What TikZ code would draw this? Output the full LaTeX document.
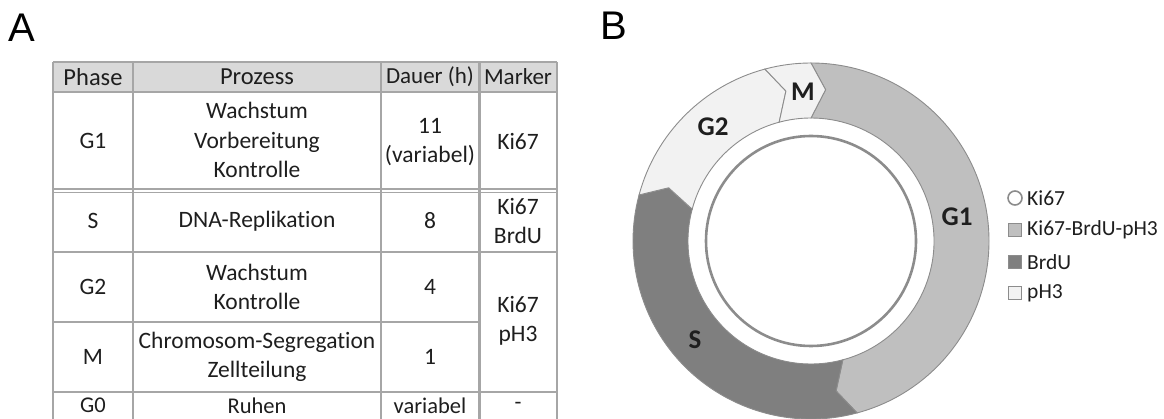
\documentclass[tikz,border=0pt]{standalone}
\usepackage{fontspec}
\setmainfont{Carlito}[Ligatures=NoCommon]
\newfontfamily\arialfont{Liberation Sans}
\definecolor{txt}{HTML}{1E1E1E}
\definecolor{gridc}{HTML}{A6A6A6}
\definecolor{headc}{HTML}{D9D9D9}
\definecolor{gone}{HTML}{BFBFBF}
\definecolor{sdark}{HTML}{7F7F7F}
\definecolor{glight}{HTML}{F2F2F2}
\definecolor{edgec}{HTML}{8C8C8C}
\tikzset{
  cell/.style={text=txt, align=center, inner sep=0pt, font=\fontsize{23.5}{29.5}\selectfont},
  lastcell/.style={cell, font=\fontsize{22.5}{27}\selectfont},
  headcell/.style={cell, font=\fontsize{24.5}{29}\selectfont},
  headsmall/.style={cell, font=\fontsize{23}{29}\selectfont},
  gridline/.style={draw=gridc, line width=2pt},
  segline/.style={draw=edgec, line width=0.9pt},
  ringlabel/.style={text=txt, inner sep=0pt, font=\bfseries\fontsize{27}{27}\selectfont},
  legtext/.style={text=txt, anchor=west, inner sep=0pt, font=\fontsize{21.5}{21.5}\selectfont},
  legbox/.style={draw=edgec, line width=0.9pt, minimum width=12.5pt, minimum height=12.5pt, inner sep=0pt},
  panel/.style={anchor=base west, inner sep=0pt, font=\arialfont\fontsize{40}{40}\selectfont}
}
\newcommand{\cycseg}[3]{%
  \filldraw[segline, fill=#3] (#1:178pt) arc[start angle=#1, end angle=#2, radius=178pt]
    -- ({#2-5.5}:152pt) -- (#2:123pt) arc[start angle=#2, end angle=#1, radius=123pt]
    -- ({#1-5.5}:152pt) -- cycle;}
\begin{document}
\begin{tikzpicture}[x=1pt,y=-1pt]
\useasboundingbox (0,0) rectangle (1164,419);
\node[panel] (labA) at (8,42) {A};
\node[panel] (labB) at (600,40) {B};

% ---------- table ----------
\fill[headc] (53,62) rectangle (557,92);
\draw[gridline] (53,62) -- (557,62);
\draw[gridline] (53,92) -- (557,92);
\draw[gridline, line width=1.5pt] (53,189) -- (557,189);
\draw[gridline, line width=1.5pt] (53,192.5) -- (557,192.5);
\draw[gridline] (53,252) -- (557,252);
\draw[gridline] (53,322) -- (479,322);
\draw[gridline] (53,392) -- (557,392);
\draw[gridline] (53,62) -- (53,419);
\draw[gridline] (133,62) -- (133,419);
\draw[gridline] (381,62) -- (381,419);
\draw[gridline, line width=3pt] (479,62) -- (479,419);
\draw[gridline] (557,62) -- (557,419);

\node[headcell] (hPhase) at (93,77) {Phase};
\node[headcell] (hProz) at (257,77) {Prozess};
\node[headsmall] (hDauer) at (430,77) {Dauer (h)};
\node[headsmall] (hMark) at (518,77) {Marker};

\node[cell] (pG1) at (93,141) {G1};
\node[cell] (zG1) at (257,140) {Wachstum\\Vorbereitung\\Kontrolle};
\node[cell] (dG1) at (430,142) {11\\(variabel)};
\node[cell] (mG1) at (518,142) {Ki67};

\node[cell] (pS) at (93,221) {S};
\node[cell] (zS) at (257,221) {DNA-Replikation};
\node[cell] (dS) at (430,221) {8};
\node[cell] (mS) at (518,221) {Ki67\\BrdU};

\node[cell] (pG2) at (93,287) {G2};
\node[cell] (zG2) at (257,287) {Wachstum\\Kontrolle};
\node[cell] (dG2) at (430,287) {4};

\node[cell] (pM) at (93,357) {M};
\node[cell] (zM) at (257,357) {Chromosom-Segregation\\Zellteilung};
\node[cell] (dM) at (430,357) {1};
\node[cell] (mG2M) at (518,321) {Ki67\\pH3};

\node[lastcell] (pG0) at (93,405.5) {G0};
\node[lastcell] (zG0) at (257,405.5) {Ruhen};
\node[lastcell] (dG0) at (430,405.5) {variabel};
\node[lastcell] (mG0) at (518,405.5) {-};

% ---------- cycle ring ----------
\begin{scope}[shift={(811pt,-241pt)}]
  \cycseg{90}{-75}{gone}
  \cycseg{-75}{-195}{sdark}
  \cycseg{165}{105}{glight}
  \cycseg{105}{90}{glight}
  \draw[edgec, line width=2.6pt] (0pt,0pt) circle[radius=105pt];
\end{scope}
\node[ringlabel] (lG1) at (957,217) {G1};
\node[ringlabel] (lS) at (695,340) {S};
\node[ringlabel] (lG2) at (713,127) {G2};
\node[ringlabel] (lM) at (803,92) {M};

% ---------- legend ----------
\node[draw=edgec, line width=1.6pt, fill=white, circle, minimum size=14pt, inner sep=0pt] (kKi) at (1015,198) {};
\node[legbox, fill=gone] (kAll) at (1015,230) {};
\node[legbox, fill=sdark] (kBrd) at (1015,262) {};
\node[legbox, fill=glight] (kPh) at (1015,293) {};
\node[legtext] (tKi) at (1027,198) {Ki67};
\node[legtext] (tAll) at (1027,230) {Ki67-BrdU-pH3};
\node[legtext] (tBrd) at (1027,262) {BrdU};
\node[legtext] (tPh) at (1027,293) {pH3};
\end{tikzpicture}
\end{document}
